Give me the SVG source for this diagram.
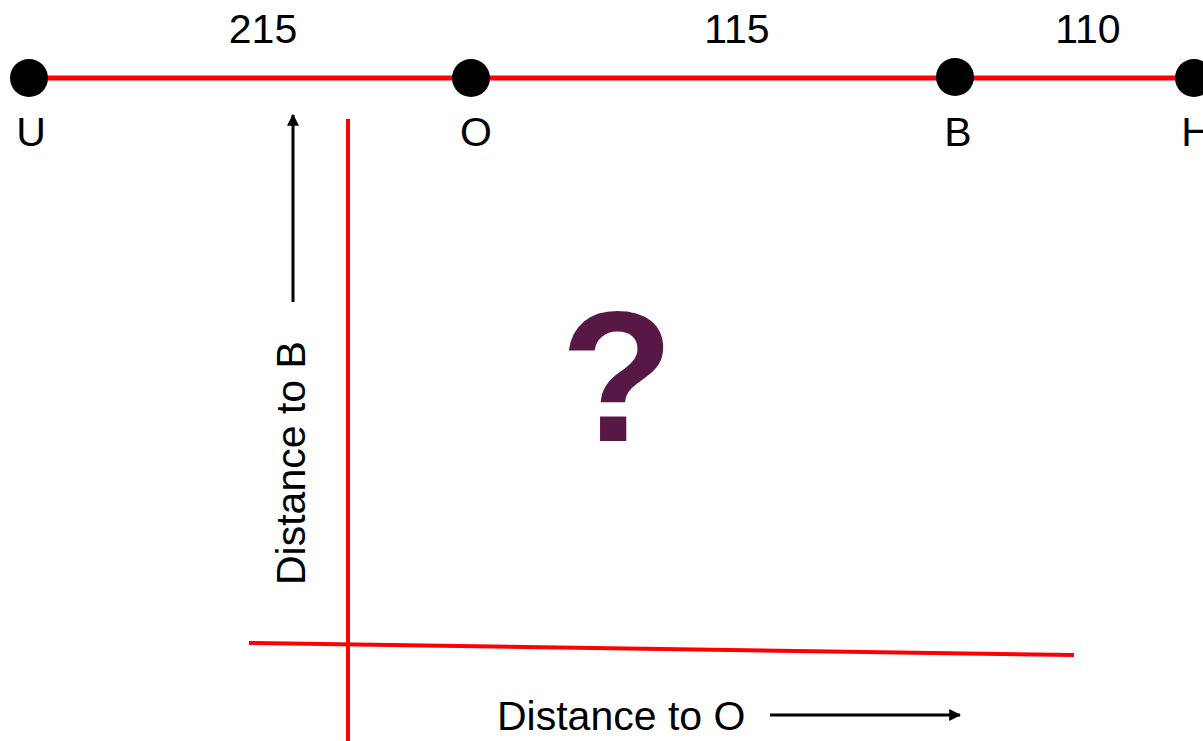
<svg xmlns="http://www.w3.org/2000/svg" width="1203" height="741" viewBox="0 0 1203 741">
<style>
.red{stroke:#FF0000;fill:none;stroke-linecap:butt}
.lbl{font-family:"Liberation Sans",Arial,sans-serif;font-size:41px;fill:#000}
.node{fill:#000}
.arr{stroke:#000;stroke-width:3;fill:none}
</style>
<defs>
<marker id="ah" viewBox="0 0 10 10" refX="9" refY="5" markerWidth="4" markerHeight="4" orient="auto" markerUnits="strokeWidth">
<path d="M0,0 L10,5 L0,10 z" fill="#000"/>
</marker>
</defs>
<g id="connectors">
<line class="red" x1="29" y1="78" x2="1193" y2="78" stroke-width="5"/>
<line class="red" x1="348" y1="119" x2="348" y2="741" stroke-width="4"/>
<line class="red" x1="249" y1="643" x2="1074" y2="655" stroke-width="4"/>
<line class="arr" x1="293" y1="302" x2="293" y2="115" marker-end="url(#ah)"/>
<line class="arr" x1="770" y1="715" x2="960" y2="715" marker-end="url(#ah)"/>
</g>
<g id="node-U"><circle class="node" cx="29" cy="78" r="19"/><text class="lbl" x="31" y="146" text-anchor="middle">U</text></g>
<g id="node-O"><circle class="node" cx="471" cy="78" r="19"/><text class="lbl" x="476" y="146" text-anchor="middle">O</text></g>
<g id="node-B"><circle class="node" cx="955" cy="77" r="19"/><text class="lbl" x="958" y="146" text-anchor="middle">B</text></g>
<g id="node-H"><circle class="node" cx="1194" cy="78" r="19"/><text class="lbl" x="1196" y="146" text-anchor="middle">H</text></g>
<g id="edge-labels">
<text class="lbl" x="263" y="43" text-anchor="middle">215</text>
<text class="lbl" x="737" y="43" text-anchor="middle">115</text>
<text class="lbl" x="1088" y="43" text-anchor="middle">110</text>
</g>
<g id="axis-labels">
<text class="lbl" transform="translate(305,585) rotate(-90)">Distance to B</text>
<text class="lbl" x="497" y="730">Distance to O</text>
</g>
<g id="question">
<text x="617" y="441" text-anchor="middle" style="font-family:'Liberation Sans',Arial,sans-serif;font-weight:bold;font-size:186px;fill:#581845">?</text>
</g>
</svg>
